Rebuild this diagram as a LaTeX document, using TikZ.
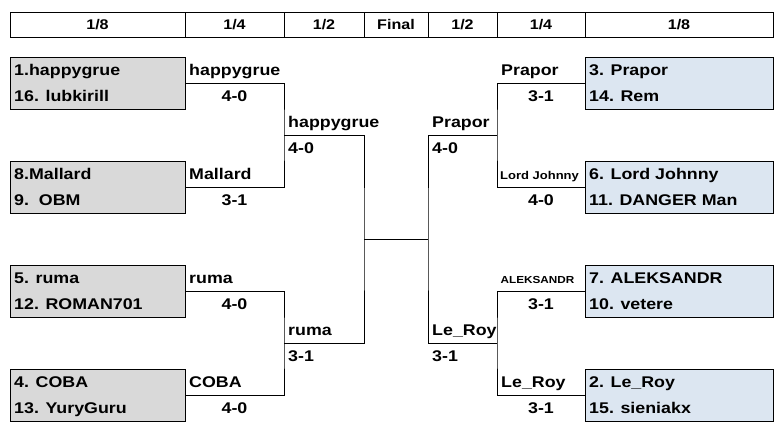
\documentclass[tikz,border=0pt]{standalone}
\usepackage{xcolor}
\usepackage{tikz}
\usepackage{fontspec}
\setmainfont{Liberation Sans}[FakeStretch=1.15]
\usetikzlibrary{positioning,calc}

\definecolor{seedgray}{HTML}{D9D9D9}
\definecolor{seedblue}{HTML}{DCE6F1}

\begin{document}
\begin{tikzpicture}[x=1pt,y=-1pt,
    hdr/.style={draw,line width=0.8pt,minimum height=25pt,inner sep=0pt,font=\fontsize{14}{15}\selectfont\bfseries},
    seedL/.style={draw,fill=seedgray,line width=0.9pt,minimum width=175pt,minimum height=52pt,inner sep=0pt},
    seedR/.style={draw,fill=seedblue,line width=0.9pt,minimum width=188pt,minimum height=52pt,inner sep=0pt},
    player/.style={anchor=base west,inner sep=0pt,font=\fontsize{15.5}{18}\selectfont\bfseries},
    small/.style={anchor=base west,inner sep=0pt,font=\fontsize{11.3}{12}\selectfont\bfseries},
    tiny/.style={anchor=base west,inner sep=0pt,font=\fontsize{10.2}{12}\selectfont\bfseries},
    score/.style={anchor=base,inner sep=0pt,font=\fontsize{15.5}{18}\selectfont\bfseries},
    wire/.style={line width=0.9pt}]
    \useasboundingbox (0,0) rectangle (780,435);

    % Header
    \node[hdr,minimum width=175pt] (h1) at (97.5,24.5) {1/8};
    \node[hdr,minimum width=99pt] (h2) at (234.5,24.5) {1/4};
    \node[hdr,minimum width=80pt] (h3) at (324,24.5) {1/2};
    \node[hdr,minimum width=64pt] (h4) at (396,24.5) {Final};
    \node[hdr,minimum width=69pt] (h5) at (462.5,24.5) {1/2};
    \node[hdr,minimum width=88pt] (h6) at (541,24.5) {1/4};
    \node[hdr,minimum width=188pt] (h7) at (679,24.5) {1/8};

    % Left seeds
    \node[seedL] (L1) at (97.5,83) {};
    \node[seedL] (L2) at (97.5,187) {};
    \node[seedL] (L3) at (97.5,291) {};
    \node[seedL] (L4) at (97.5,395) {};
    \node[player] (p1) at (14,76) {1.happygrue};
    \node[player] (p16) at (14,102) {16. lubkirill};
    \node[player] (p8) at (14,180) {8.Mallard};
    \node[player] (p9) at (14,206) {9.\ \ OBM};
    \node[player] (p5) at (14,284) {5. ruma};
    \node[player] (p12) at (14,310) {12. ROMAN701};
    \node[player] (p4) at (14,388) {4. COBA};
    \node[player] (p13) at (14,414) {13. YuryGuru};

    % Right seeds
    \node[seedR] (R1) at (679,83) {};
    \node[seedR] (R2) at (679,187) {};
    \node[seedR] (R3) at (679,291) {};
    \node[seedR] (R4) at (679,395) {};
    \node[player] (p3) at (589,76) {3. Prapor};
    \node[player] (p14) at (589,102) {14. Rem};
    \node[player] (p6) at (589,180) {6. Lord Johnny};
    \node[player] (p11) at (589,206) {11. DANGER Man};
    \node[player] (p7) at (589,284) {7. ALEKSANDR};
    \node[player] (p10) at (589,310) {10. vetere};
    \node[player] (p2) at (589,388) {2. Le\_Roy};
    \node[player] (p15) at (589,414) {15. sieniakx};

    % Bracket joints
    \coordinate (sq1) at (284,135);
    \coordinate (sq2) at (284,343);
    \coordinate (sq3) at (497,135);
    \coordinate (sq4) at (497,343);
    \coordinate (fl) at (364,239);
    \coordinate (fr) at (428,239);

    % Connectors
    \draw[wire] (L1.east) -| (sq1) |- (L2.east);
    \draw[wire] (L3.east) -| (sq2) |- (L4.east);
    \draw[wire] (sq1) -| (fl) |- (sq2);
    \draw[wire] (fl) -- (fr);
    \draw[wire] (R1.west) -| (sq3) |- (R2.west);
    \draw[wire] (R3.west) -| (sq4) |- (R4.west);
    \draw[wire] (sq3) -| (fr) |- (sq4);

    % Quarter finals, left
    \node[player] (qw1) at (189,76) {happygrue};
    \node[score] (qs1) at (234.5,102) {4-0};
    \node[player] (qw2) at (189,180) {Mallard};
    \node[score] (qs2) at (234.5,206) {3-1};
    \node[player] (qw3) at (189,284) {ruma};
    \node[score] (qs3) at (234.5,310) {4-0};
    \node[player] (qw4) at (189,388) {COBA};
    \node[score] (qs4) at (234.5,414) {4-0};

    % Quarter finals, right
    \node[player] (qw5) at (501,76) {Prapor};
    \node[score] (qs5) at (541,102) {3-1};
    \node[small] (qw6) at (500,180) {Lord Johnny};
    \node[score] (qs6) at (541,206) {4-0};
    \node[tiny] (qw7) at (500.5,284) {ALEKSANDR};
    \node[score] (qs7) at (541,310) {3-1};
    \node[player] (qw8) at (501,388) {Le\_Roy};
    \node[score] (qs8) at (541,414) {3-1};

    % Semi finals
    \node[player] (sw1) at (288,128) {happygrue};
    \node[player] (ss1) at (288,154) {4-0};
    \node[player] (sw2) at (288,336) {ruma};
    \node[player] (ss2) at (288,362) {3-1};
    \node[player] (sw3) at (432,128) {Prapor};
    \node[player] (ss3) at (432,154) {4-0};
    \node[player] (sw4) at (432,336) {Le\_Roy};
    \node[player] (ss4) at (432,362) {3-1};
\end{tikzpicture}
\end{document}
